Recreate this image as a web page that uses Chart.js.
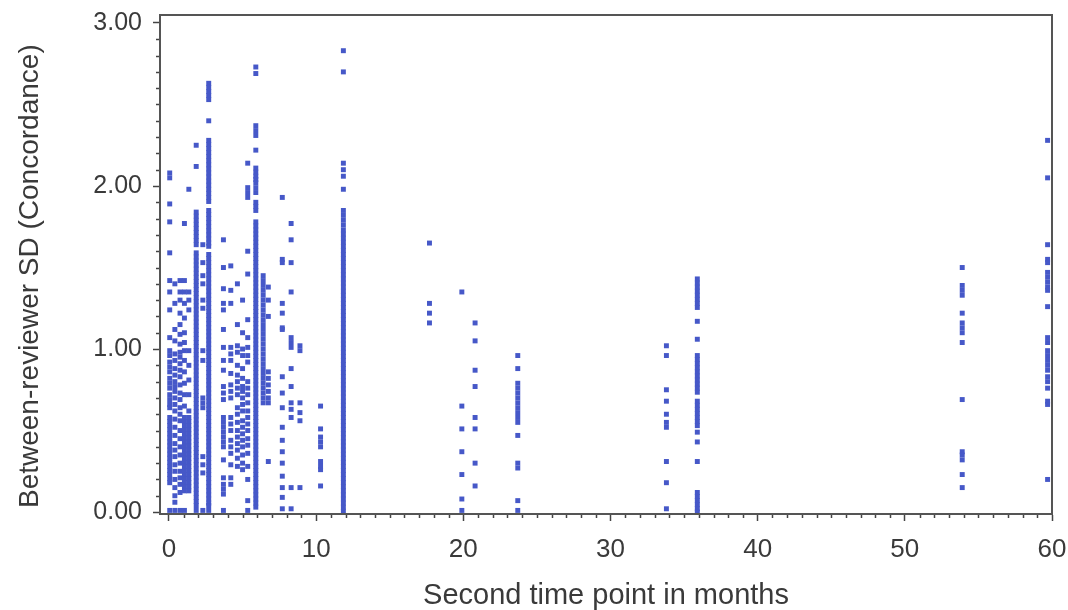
<!DOCTYPE html>
<html><head><meta charset="utf-8">
<script src="https://cdn.jsdelivr.net/npm/chart.js@4"></script>
<style>html,body{margin:0;padding:0;background:#fff}</style>
</head><body>
<canvas id="c" width="1068" height="610"></canvas>
<script>
// ---- tick labels ----
const xTickValues = [0, 10, 20, 30, 40, 50, 60];
const xTickLabels = ['0', '10', '20', '30', '40', '50', '60'];
const yTickValues = [0, 1, 2, 3];
const yTickLabels = ['0.00', '1.00', '2.00', '3.00'];

// ---- data: month of second time point and between-reviewer SD values ----
const sdM0_05 = [2.08,2.05,1.89,1.78,1.59,1.42,1.35,1.24,1.07,0.99,0.96,0.92,0.89,0.86,0.82,0.79,0.76,0.72,0.69,0.66,0.64,0.58,0.555,0.53,0.505,0.48,0.455,0.43,0.405,0.38,0.355,0.33,0.305,0.28,0.255,0.23,0.205,0.18,0.01];
const sdM0_4 = [1.40,1.28,1.12,1.05,0.97,0.93,0.88,0.84,0.80,0.77,0.74,0.70,0.66,0.62,0.57,0.52,0.47,0.42,0.38,0.34,0.29,0.25,0.20,0.15,0.10,0.06,0.01];
const sdM0_75 = [1.42,1.35,1.30,1.22,1.15,1.09,1.03,0.98,0.95,0.91,0.87,0.83,0.78,0.73,0.69,0.64,0.60,0.56,0.50,0.45,0.40,0.35,0.30,0.25,0.21,0.17,0.12,0.01];
const sdM1_05 = [1.77,1.42,1.35,1.28,1.19,1.10,1.04,0.99,0.93,0.86,0.79,0.72,0.65,0.58,0.555,0.53,0.505,0.48,0.455,0.43,0.405,0.38,0.355,0.33,0.305,0.28,0.255,0.23,0.205,0.18,0.155,0.13,0.01];
const sdM1_35 = [1.98,1.35,1.30,1.24,0.99,0.90,0.81,0.72,0.62,0.58,0.555,0.53,0.505,0.48,0.455,0.43,0.405,0.38,0.355,0.33,0.305,0.28,0.255,0.23,0.205,0.18,0.155,0.13];
const sdM1_85 = [2.25,2.12,1.84,1.815,1.79,1.765,1.74,1.715,1.69,1.665,1.64,1.59,1.565,1.54,1.515,1.49,1.465,1.44,1.415,1.39,1.365,1.34,1.315,1.29,1.265,1.24,1.215,1.19,1.165,1.14,1.115,1.09,1.065,1.04,1.015,0.99,0.965,0.94,0.915,0.89,0.865,0.84,0.815,0.79,0.765,0.74,0.715,0.69,0.665,0.64,0.615,0.59,0.565,0.54,0.515,0.49,0.465,0.44,0.415,0.39,0.365,0.34,0.315,0.29,0.265,0.24,0.215,0.19,0.165,0.14,0.115,0.09,0.065,0.04,0.01];
const sdM2_3 = [1.64,1.53,1.45,1.40,1.30,1.25,0.99,0.93,0.70,0.67,0.64,0.34,0.29,0.24,0.01];
const sdM2_7 = [2.63,2.605,2.58,2.555,2.53,2.40,2.28,2.255,2.23,2.205,2.18,2.155,2.13,2.105,2.08,2.055,2.03,2.005,1.98,1.955,1.93,1.905,1.85,1.825,1.80,1.775,1.75,1.725,1.70,1.675,1.65,1.63,1.58,1.555,1.53,1.505,1.48,1.455,1.43,1.405,1.38,1.355,1.33,1.305,1.28,1.255,1.23,1.205,1.18,1.155,1.13,1.105,1.08,1.055,1.03,1.005,0.98,0.955,0.93,0.905,0.88,0.855,0.83,0.805,0.78,0.755,0.73,0.705,0.68,0.655,0.63,0.605,0.58,0.555,0.53,0.505,0.48,0.455,0.43,0.405,0.38,0.355,0.33,0.305,0.28,0.255,0.23,0.205,0.18,0.155,0.13,0.105,0.08,0.055,0.04,0.01];
const sdM3_7 = [1.67,1.50,1.37,1.28,1.24,1.12,1.01,0.93,0.87,0.77,0.73,0.69,0.58,0.55,0.52,0.49,0.46,0.43,0.40,0.32,0.21,0.17,0.14,0.11,0.01];
const sdM4_2 = [1.51,1.36,1.28,1.01,0.97,0.93,0.85,0.78,0.74,0.70,0.58,0.54,0.50,0.44,0.40,0.36,0.29,0.21,0.17];
const sdM4_65 = [1.40,1.15,1.02,0.98,0.90,0.84,0.80,0.76,0.72,0.64,0.60,0.55,0.50,0.46,0.42,0.38,0.33,0.28];
const sdM5_0 = [1.30,1.10,1.00,0.96,0.88,0.82,0.77,0.74,0.70,0.66,0.62,0.56,0.52,0.48,0.44,0.40,0.35,0.30,0.26];
const sdM5_35 = [2.14,1.99,1.96,1.93,1.60,1.46,1.18,1.07,1.01,0.96,0.92,0.80,0.76,0.72,0.67,0.62,0.58,0.54,0.50,0.45,0.41,0.36,0.28,0.20,0.07,0.01];
const sdM5_9 = [2.73,2.69,2.37,2.34,2.31,2.22,2.11,2.085,2.06,2.04,2.02,1.99,1.96,1.90,1.875,1.85,1.78,1.755,1.73,1.705,1.68,1.655,1.63,1.605,1.58,1.555,1.53,1.505,1.48,1.455,1.43,1.405,1.38,1.355,1.33,1.305,1.28,1.255,1.23,1.205,1.18,1.155,1.13,1.105,1.08,1.055,1.03,1.005,0.98,0.955,0.93,0.905,0.88,0.855,0.83,0.805,0.78,0.755,0.73,0.705,0.68,0.655,0.63,0.605,0.58,0.555,0.53,0.505,0.48,0.455,0.43,0.405,0.38,0.355,0.33,0.305,0.28,0.255,0.23,0.205,0.18,0.155,0.13,0.105,0.08,0.055,0.03];
const sdM6_4 = [1.45,1.42,1.39,1.36,1.33,1.30,1.27,1.24,1.21,1.18,1.15,1.12,1.09,1.06,1.03,1.00,0.97,0.94,0.91,0.88,0.85,0.82,0.79,0.76,0.73,0.70,0.67];
const sdM6_75 = [1.38,1.30,1.20,0.86,0.82,0.78,0.74,0.70,0.67,0.31];
const sdM7_7 = [1.93,1.55,1.53,1.28,1.22,1.13,1.12,0.83,0.73,0.64,0.52,0.44,0.37,0.30,0.22,0.15,0.09,0.02];
const sdM8_3 = [1.77,1.67,1.53,1.35,1.07,1.04,1.01,0.88,0.77,0.67,0.63,0.58,0.15,0.02];
const sdM8_9 = [1.02,0.99,0.67,0.61,0.56,0.15];
const sdM10_3 = [0.65,0.51,0.46,0.43,0.40,0.31,0.28,0.26,0.16];
const sdM11_85 = [2.83,2.70,2.14,2.10,2.06,1.98,1.85,1.82,1.79,1.76,1.73,1.705,1.68,1.655,1.63,1.605,1.58,1.555,1.53,1.505,1.48,1.455,1.43,1.405,1.38,1.355,1.33,1.305,1.28,1.255,1.23,1.205,1.18,1.155,1.13,1.105,1.08,1.055,1.03,1.005,0.98,0.955,0.93,0.905,0.88,0.855,0.83,0.805,0.78,0.755,0.73,0.705,0.68,0.655,0.63,0.605,0.58,0.555,0.53,0.505,0.48,0.455,0.43,0.405,0.38,0.355,0.33,0.305,0.28,0.255,0.23,0.205,0.18,0.155,0.13,0.105,0.08,0.055,0.03,0.005];
const sdM17_7 = [1.65,1.28,1.22,1.16];
const sdM19_9 = [1.35,0.65,0.51,0.37,0.23,0.08,0.01];
const sdM20_8 = [1.16,1.05,0.87,0.77,0.58,0.51,0.30,0.16];
const sdM23_7 = [0.96,0.88,0.79,0.76,0.73,0.70,0.67,0.64,0.61,0.58,0.55,0.47,0.30,0.27,0.07,0.01];
const sdM33_8 = [1.02,0.96,0.75,0.68,0.60,0.55,0.52,0.31,0.18,0.02];
const sdM35_9 = [1.43,1.405,1.38,1.355,1.33,1.305,1.28,1.255,1.17,1.06,0.96,0.935,0.91,0.885,0.86,0.835,0.81,0.785,0.76,0.735,0.68,0.655,0.63,0.605,0.58,0.555,0.53,0.49,0.43,0.31,0.12,0.095,0.07,0.045,0.02,0.0];
const sdM53_9 = [1.50,1.39,1.36,1.33,1.22,1.16,1.13,1.10,1.04,0.69,0.37,0.35,0.32,0.23,0.15];
const sdM59_7 = [2.28,2.05,1.64,1.55,1.53,1.47,1.44,1.41,1.38,1.36,1.26,1.07,1.04,0.99,0.96,0.93,0.90,0.87,0.83,0.80,0.76,0.68,0.66,0.20];

const columnMonths = [0.05,0.4,0.75,1.05,1.35,1.85,2.3,2.7,3.7,4.2,4.65,5.0,5.35,5.9,6.4,6.75,7.7,8.3,8.9,10.3,11.85,17.7,19.9,20.8,23.7,33.8,35.9,53.9,59.7];
const columnValues = [sdM0_05,sdM0_4,sdM0_75,sdM1_05,sdM1_35,sdM1_85,sdM2_3,sdM2_7,sdM3_7,sdM4_2,sdM4_65,sdM5_0,sdM5_35,sdM5_9,sdM6_4,sdM6_75,sdM7_7,sdM8_3,sdM8_9,sdM10_3,sdM11_85,sdM17_7,sdM19_9,sdM20_8,sdM23_7,sdM33_8,sdM35_9,sdM53_9,sdM59_7];

const points = [];
columnMonths.forEach((m, i) => columnValues[i].forEach(v => points.push({x: m, y: v})));

const BLUE = '#4658c8';
const AXIS = '#444';
const TEXT = '#3a3a3a';
const TICKFONT = "'Liberation Sans', Arial, sans-serif";
const TITLEFONT = "'Liberation Sans', Arial, sans-serif";

const framePlugin = {
  id: 'frame',
  afterDraw(chart) {
    const {ctx, chartArea: a, scales: {x, y}} = chart;
    ctx.save();
    ctx.strokeStyle = AXIS;
    ctx.lineWidth = 1.5;
    ctx.beginPath();
    for (let v = 0; v <= 60; v += 1) {
      if (v % 10 === 0) continue;
      const px = Math.round(x.getPixelForValue(v)) + 0.5;
      ctx.moveTo(px, a.bottom); ctx.lineTo(px, a.bottom + 4);
    }
    for (let k = 0; k <= 30; k++) {
      if (k % 10 === 0) continue;
      const py = Math.round(y.getPixelForValue(k / 10)) + 0.5;
      ctx.moveTo(a.left, py); ctx.lineTo(a.left - 4, py);
    }
    ctx.stroke();
    ctx.strokeStyle = '#555';
    ctx.lineWidth = 2;
    ctx.strokeRect(a.left, a.top, a.right - a.left, a.bottom - a.top);
    ctx.restore();
  }
};

new Chart(document.getElementById('c'), {
  type: 'scatter',
  data: {datasets: [{
    data: points,
    pointStyle: 'rect',
    pointRadius: 3.5,
    pointHoverRadius: 3.5,
    pointBackgroundColor: BLUE,
    pointBorderWidth: 0,
    pointBorderColor: BLUE
  }]},
  options: {
    responsive: false,
    animation: false,
    events: [],
    layout: {autoPadding: false, padding: {left: 0, right: 16, top: 15, bottom: 0}},
    plugins: {legend: {display: false}, tooltip: {enabled: false}},
    scales: {
      x: {
        type: 'linear', min: -0.61, max: 60,
        afterBuildTicks: s => { s.ticks = xTickValues.map(v => ({value: v})); },
        afterFit: s => { s.height = 96; s.paddingLeft = 0; s.paddingRight = 0; },
        ticks: {
          callback: v => xTickLabels[xTickValues.indexOf(v)],
          font: {family: TICKFONT, size: 26}, color: TEXT, padding: 13,
          maxRotation: 0, autoSkip: false
        },
        grid: {display: true, drawOnChartArea: false, drawTicks: true, tickLength: 7, tickColor: AXIS, tickWidth: 1.5},
        border: {display: true, color: AXIS, width: 2},
        title: {display: true, text: 'Second time point in months', color: TEXT,
                font: {family: TITLEFONT, size: 29, lineHeight: 1}, padding: 0}
      },
      y: {
        type: 'linear', min: -0.012, max: 3.049,
        afterBuildTicks: s => { s.ticks = yTickValues.map(v => ({value: v})); },
        afterFit: s => { s.width = 160; s.paddingTop = 0; s.paddingBottom = 0; },
        ticks: {
          callback: v => yTickLabels[yTickValues.indexOf(v)],
          font: {family: TICKFONT, size: 25}, color: TEXT, padding: 11
        },
        grid: {display: true, drawOnChartArea: false, drawTicks: true, tickLength: 7, tickColor: AXIS, tickWidth: 1.5},
        border: {display: true, color: AXIS, width: 2},
        title: {display: true, text: 'Between-reviewer SD (Concordance)   ', color: TEXT,
                font: {family: TITLEFONT, size: 28, lineHeight: 1}, padding: {top: 16, bottom: 0}}
      }
    }
  },
  plugins: [framePlugin]
});
</script>
</body></html>
